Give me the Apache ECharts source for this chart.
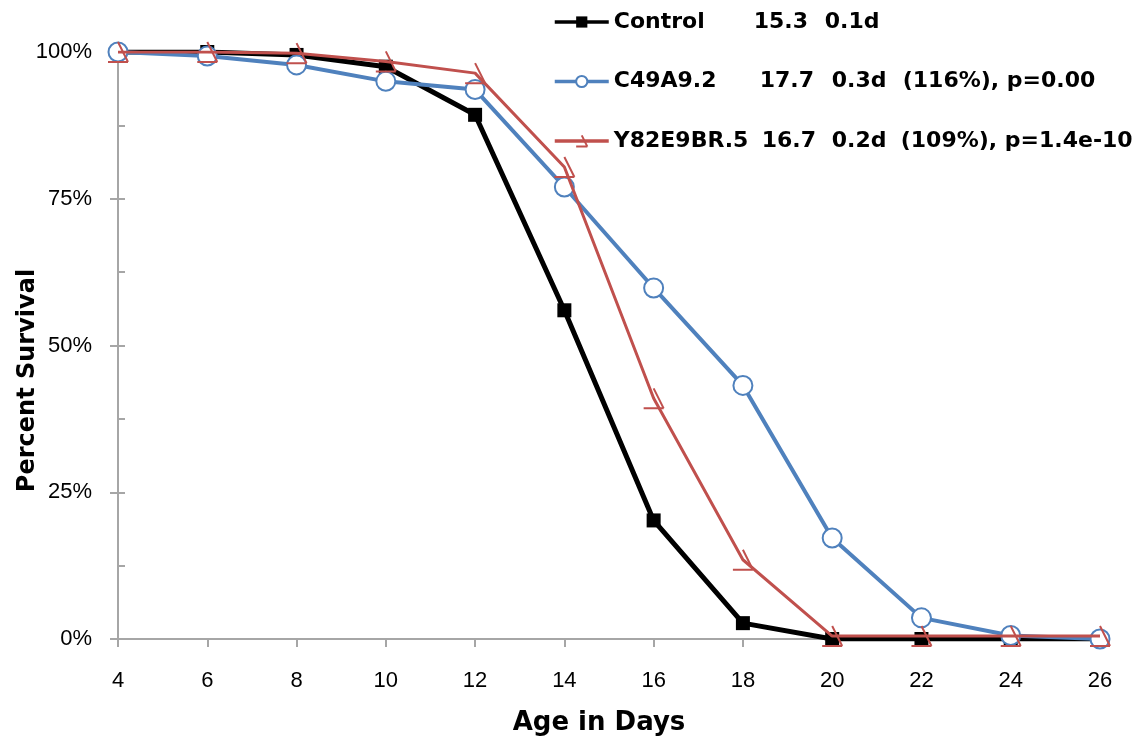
<!DOCTYPE html>
<html>
<head>
<meta charset="utf-8">
<script src="https://cdn.jsdelivr.net/npm/echarts@6/dist/echarts.min.js"></script>
<style>
html,body{margin:0;padding:0;background:#fff;}
#chart{width:1143px;height:741px;}
</style>
</head>
<body>
<div id="chart"></div>
<script>
// ---- data ----
const days = [4, 6, 8, 10, 12, 14, 16, 18, 20, 22, 24, 26];
const seriesNames = ['Control', 'C49A9.2', 'Y82E9BR.5'];
const controlSurvival = [100, 100, 99.5, 97.5, 89.3, 56.0, 20.2, 2.7, 0, 0, 0, 0];
const c49a92Survival = [100, 99.3, 97.8, 95.0, 93.6, 77.0, 59.8, 43.2, 17.2, 3.6, 0.6, 0];
const y82e9br5Survival = [100, 100, 99.8, 98.4, 96.4, 80.4, 41.0, 13.5, 0.5, 0.5, 0.5, 0.5];
const legendStats = {
  'Control': ['15.3', '0.1d', ''],
  'C49A9.2': ['17.7', '0.3d', '(116%), p=0.00'],
  'Y82E9BR.5': ['16.7', '0.2d', '(109%), p=1.4e-10']
};

// ---- layout / style ----
const colors = { control: '#000000', c49: '#4F81BD', y82: '#C0504D' };
const legendCols = {
  'Control': [140, 71, 71],
  'C49A9.2': [146, 72, 71],
  'Y82E9BR.5': [148, 70, 69]
};
const tickFont = '"Liberation Sans", Arial, sans-serif';
const boldFont = '"DejaVu Sans", Verdana, sans-serif';
const pair = (arr) => days.map((d, i) => [d, arr[i]]);

const richStyles = {};
Object.keys(legendCols).forEach((k, idx) => {
  legendCols[k].forEach((w, j) => {
    richStyles['c' + idx + '_' + j] = { width: w, fontFamily: boldFont, fontWeight: 'bold', fontSize: 22, color: '#000' };
  });
  richStyles['c' + idx + '_3'] = { fontFamily: boldFont, fontWeight: 'bold', fontSize: 22, color: '#000' };
});

const redMarker = 'path://M0,20 L20,20 M10,0 L20,20';

function draw() {
  const chart = echarts.init(document.getElementById('chart'), null, { renderer: 'canvas' });
  chart.setOption({
    animation: false,
    backgroundColor: '#fff',
    grid: { left: 118, right: 43, top: 52, bottom: 102, containLabel: false, outerBoundsMode: 'none' },
    legend: {
      orient: 'vertical',
      left: 548,
      top: 4,
      itemWidth: 54,
      itemHeight: 14,
      itemGap: 33.5,
      data: seriesNames,
      lineStyle: { width: 3.5 },
      formatter: function (name) {
        const idx = seriesNames.indexOf(name);
        const s = legendStats[name];
        let str = '{c' + idx + '_0|' + name + '}{c' + idx + '_1|' + s[0] + '}{c' + idx + '_2|' + s[1] + '}';
        if (s[2]) str += '{c' + idx + '_3|' + s[2] + '}';
        return str;
      },
      textStyle: { fontFamily: boldFont, fontWeight: 'bold', fontSize: 22, color: '#000', lineHeight: 26, rich: richStyles }
    },
    xAxis: {
      type: 'value',
      min: 4, max: 26, interval: 2,
      name: 'Age in Days',
      nameLocation: 'middle',
      nameGap: 71,
      nameMoveOverlap: false,
      nameTextStyle: { fontFamily: boldFont, fontWeight: 'bold', fontSize: 26, color: '#000', padding: [0, 20, 0, 0] },
      axisLine: { show: true, onZero: false, lineStyle: { color: '#A6A6A6', width: 2 } },
      axisTick: { show: true, inside: false, length: 8, lineStyle: { color: '#A6A6A6', width: 2 } },
      axisLabel: { margin: 31, fontFamily: tickFont, fontSize: 22, color: '#000' },
      splitLine: { show: false }
    },
    yAxis: [
      {
        type: 'value',
        min: 0, max: 100, interval: 25,
        name: 'Percent Survival',
        nameLocation: 'middle',
        nameRotate: 90,
        nameGap: 78,
        nameMoveOverlap: false,
        nameTextStyle: { fontFamily: boldFont, fontWeight: 'bold', fontSize: 24, color: '#000', padding: [0, 70, 0, 0] },
        axisLine: { show: true, lineStyle: { color: '#A6A6A6', width: 2 } },
        axisTick: { show: true, inside: false, length: 8, lineStyle: { color: '#A6A6A6', width: 2 } },
        axisLabel: { margin: 26, fontFamily: tickFont, fontSize: 22, color: '#000', formatter: '{value}%' },
        splitLine: { show: false }
      },
      {
        type: 'value',
        position: 'left',
        min: 0, max: 100, interval: 12.5,
        axisLine: { show: false },
        axisTick: { show: true, inside: true, length: 7, lineStyle: { color: '#A6A6A6', width: 2 } },
        axisLabel: { show: false },
        splitLine: { show: false }
      }
    ],
    series: [
      {
        name: 'Control',
        type: 'line',
        data: pair(controlSurvival),
        color: colors.control,
        lineStyle: { color: colors.control, width: 5 },
        symbol: 'rect',
        symbolSize: 14,
        itemStyle: { color: colors.control },
        z: 2
      },
      {
        name: 'C49A9.2',
        type: 'line',
        data: pair(c49a92Survival),
        color: colors.c49,
        lineStyle: { color: colors.c49, width: 4 },
        symbol: 'emptyCircle',
        symbolSize: 19,
        itemStyle: { color: colors.c49, borderColor: colors.c49, borderWidth: 2 },
        z: 3
      },
      {
        name: 'Y82E9BR.5',
        type: 'line',
        data: pair(y82e9br5Survival),
        color: colors.y82,
        lineStyle: { color: colors.y82, width: 3 },
        symbol: redMarker,
        symbolSize: [20, 20],
        itemStyle: { color: 'none', borderColor: colors.y82, borderWidth: 2 },
        z: 4
      }
    ]
  });
}

const fontLoads = ['22px "Liberation Sans"', 'bold 22px "DejaVu Sans"'].map(f => document.fonts.load(f).catch(() => null));
Promise.all(fontLoads).then(draw, draw);
</script>
</body>
</html>
